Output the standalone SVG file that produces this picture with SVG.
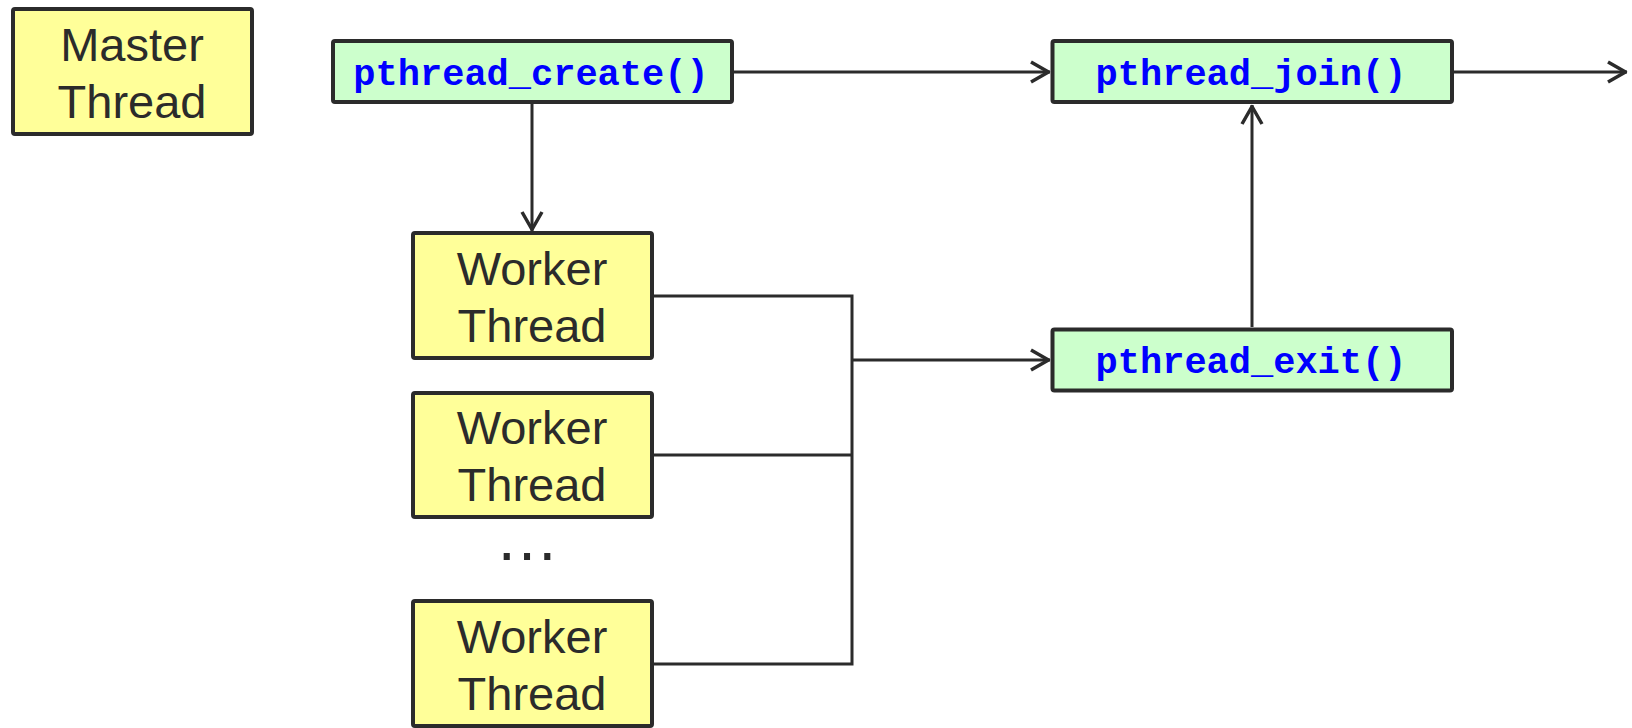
<svg xmlns="http://www.w3.org/2000/svg" width="1632" height="728" viewBox="0 0 1632 728">
  <style>
    .yel { fill: #FFFF99; stroke: #2b2b2b; stroke-width: 4; }
    .grn { fill: #CCFFCC; stroke: #2b2b2b; stroke-width: 4; }
    .lbl { font-family: "Liberation Sans", Arial, sans-serif; font-size: 47px; fill: #2b2b2b; text-anchor: middle; }
    .code { font-family: "Courier New", "Liberation Mono", monospace; font-weight: bold; font-size: 37px; fill: #0000FF; text-anchor: middle; }
    .wire { fill: none; stroke: #2b2b2b; stroke-width: 3; }
    .arr { fill: none; stroke: #2b2b2b; stroke-width: 3; marker-end: url(#chev); }
  </style>
  <defs>
    <marker id="chev" markerUnits="userSpaceOnUse" viewBox="-24 -14 28 28" markerWidth="28" markerHeight="28" refX="0" refY="0" orient="auto">
      <path d="M-19,-10 L-1.5,0 L-19,10" fill="none" stroke="#2b2b2b" stroke-width="3.5" stroke-linejoin="round" stroke-linecap="butt"/>
    </marker>
  </defs>
  <rect width="1632" height="728" fill="#FFFFFF"/>

  <g id="connectors">
    <path class="arr" d="M733,72 H1050"/>
    <path class="arr" d="M1454,72 H1627"/>
    <path class="arr" d="M532,103 V231"/>
    <path class="wire" d="M653,296 H852 V664 H653"/>
    <path class="wire" d="M653,455 H852"/>
    <path class="arr" d="M852,360 H1050"/>
    <path class="arr" d="M1252,327 V105"/>
  </g>

  <g id="master">
    <rect class="yel" x="13" y="9" width="239" height="125" rx="2"/>
    <text class="lbl" x="132" y="61">Master</text>
    <text class="lbl" x="132" y="118">Thread</text>
  </g>

  <g id="pthread_create">
    <rect class="grn" x="333" y="41" width="399" height="61" rx="2"/>
    <text class="code" x="531" y="85">pthread_create()</text>
  </g>

  <g id="pthread_join">
    <rect class="grn" x="1052.5" y="41" width="399.5" height="61" rx="2"/>
    <text class="code" x="1251" y="85">pthread_join()</text>
  </g>

  <g id="pthread_exit">
    <rect class="grn" x="1052.5" y="329.5" width="399.5" height="61" rx="2"/>
    <text class="code" x="1251" y="373">pthread_exit()</text>
  </g>

  <g id="worker1">
    <rect class="yel" x="413" y="233" width="239" height="125" rx="2"/>
    <text class="lbl" x="532" y="284.5">Worker</text>
    <text class="lbl" x="532" y="341.5">Thread</text>
  </g>

  <g id="worker2">
    <rect class="yel" x="413" y="393" width="239" height="124" rx="2"/>
    <text class="lbl" x="532" y="444">Worker</text>
    <text class="lbl" x="532" y="501">Thread</text>
  </g>

  <g id="ellipsis">
    <text class="lbl" x="527" y="560" style="font-size:64px">…</text>
  </g>

  <g id="worker3">
    <rect class="yel" x="413" y="601" width="239" height="125" rx="2"/>
    <text class="lbl" x="532" y="652.5">Worker</text>
    <text class="lbl" x="532" y="709.5">Thread</text>
  </g>
</svg>
